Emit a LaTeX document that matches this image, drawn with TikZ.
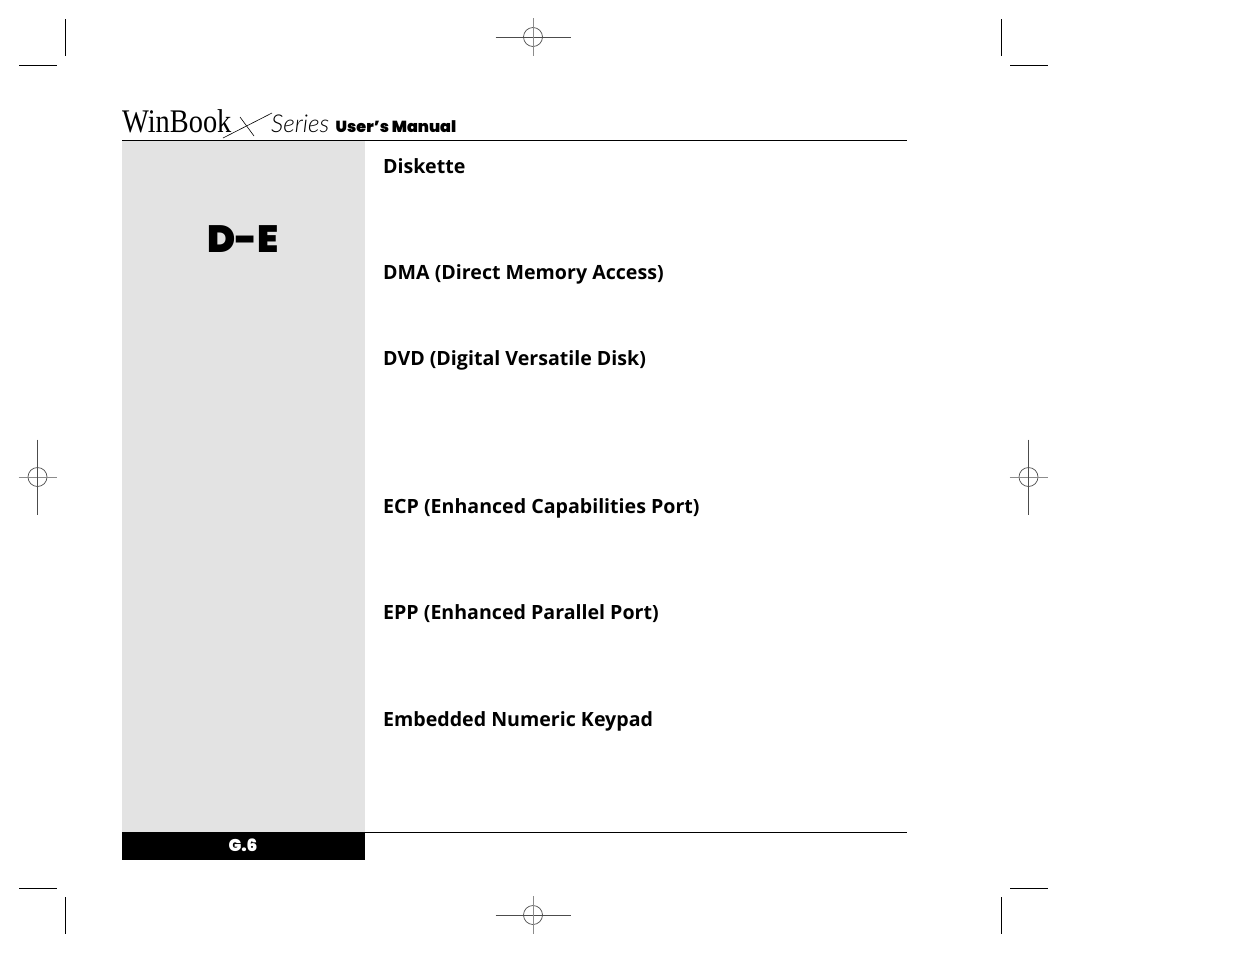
\documentclass[tikz,border=0pt]{standalone}
\usepackage{fontspec}
\setmainfont{Open Sans}
\newfontfamily\logofont{Liberation Serif}
\newfontfamily\seriesfont{Lato Light}
\newfontfamily\blackfont{Poppins Black}
\definecolor{sidegray}{gray}{0.89}
\tikzset{
	term/.style={anchor=base west,inner sep=0pt,font=\fontsize{19.6}{23}\selectfont\bfseries},
	regmark/.style={color=black!70,line width=0.7pt},
	regfaint/.style={color=black!45,line width=0.8pt},
	trimmark/.style={color=black,line width=0.7pt}
}
\newcommand{\regcross}[2]{%
	\draw[regmark] (#1,#2) circle (9.5);
	\draw[regmark] (#1-37.5,#2) -- (#1+37.5,#2);
	\draw[regfaint] (#1,#2-19) -- (#1,#2+19);
}
\newcommand{\regcrossv}[2]{%
	\draw[regmark] (#1,#2) circle (9.5);
	\draw[regfaint] (#1-19,#2) -- (#1+19,#2);
	\draw[regmark] (#1,#2-37.5) -- (#1,#2+37.5);
}
\begin{document}
\begin{tikzpicture}[x=1pt,y=-1pt]
		\useasboundingbox (0,0) rectangle (1235,954);
		\fill[white] (0,0) rectangle (1235,954);
		% side panel and page bars
		\fill[sidegray] (122,141) rectangle (365,832);
		\fill[black] (122,832) rectangle (365,860);
		\draw[line width=1pt] (122,140.5) -- (907,140.5);
		\draw[line width=1pt] (365,832.5) -- (907,832.5);
		% header
		\node[anchor=base west,inner sep=0pt,xscale=0.86,font=\logofont\fontsize{33}{36}\selectfont] (brand) at (122,132) {WinBook};
		\coordinate (xa) at (223,138);
		\coordinate (xb) at (272,113);
		\coordinate (xc) at (240,117);
		\coordinate (xd) at (254,136);
		\draw[line width=0.6pt] (xa) -- (xb);
		\draw[line width=0.6pt] (xc) -- (xd);
		\node[anchor=base west,inner sep=0pt,font=\seriesfont\itshape\fontsize{24.6}{28}\selectfont] (series) at (271,132) {Series};
		\node[anchor=base west,inner sep=0pt,font=\blackfont\fontsize{16}{18}\selectfont] (manual) at (335.5,132.5) {User’s Manual};
		% section letter and page number
		\node[font=\blackfont\fontsize{38}{40}\selectfont,inner sep=0pt] (letter) at (243,239) {D-E};
		\node[font=\blackfont\fontsize{17}{18}\selectfont,text=white,inner sep=0pt] (pageno) at (243,845) {G.6};
		% terms
		\node[term] (diskette) at (383,173.5) {Diskette};
		\node[term] (dma) at (383,279.5) {DMA (Direct Memory Access)};
		\node[term] (dvd) at (383,365.5) {DVD (Digital Versatile Disk)};
		\node[term] (ecp) at (383,513.5) {ECP (Enhanced Capabilities Port)};
		\node[term] (epp) at (383,619.5) {EPP (Enhanced Parallel Port)};
		\node[term] (keypad) at (383,726.5) {Embedded Numeric Keypad};
		% registration marks
		\regcross{533}{37}
		\regcross{533}{915}
		\regcrossv{37.5}{477}
		\regcrossv{1028.5}{477}
		% trim marks
		\foreach \tx in {65,1001} {
			\draw[trimmark] (\tx,19) -- (\tx,56);
			\draw[trimmark] (\tx,897) -- (\tx,934);
		}
		\foreach \tx in {19,1010} {
			\draw[trimmark] (\tx,65) -- (\tx+38,65);
			\draw[trimmark] (\tx,888) -- (\tx+38,888);
		}
		\end{tikzpicture}
\end{document}
